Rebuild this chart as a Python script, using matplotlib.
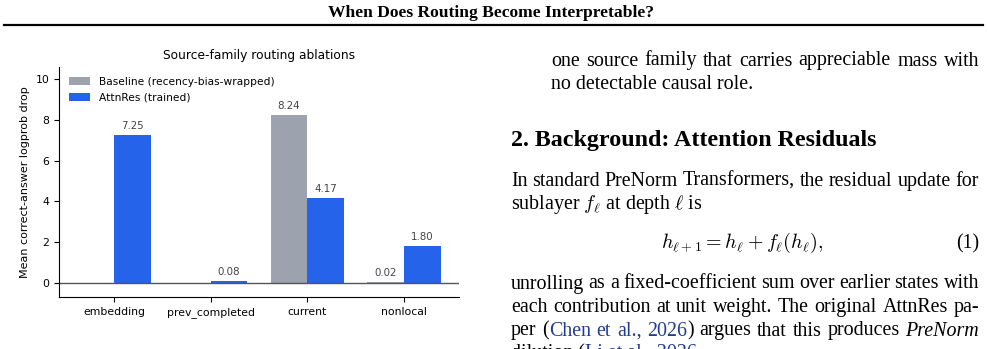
import matplotlib
matplotlib.use("Agg")
import matplotlib.pyplot as plt
import numpy as np

W, H = 988, 349

# данные графика
families = ["embedding", "prev_completed", "current", "nonlocal"]
baseline = [0.0, 0.0, 8.24, 0.02]
attnres = [7.25, 0.08, 4.17, 1.80]
series_names = ["Baseline (recency-bias-wrapped)", "AttnRes (trained)"]

plt.rcParams["mathtext.fontset"] = "cm"

fig = plt.figure(figsize=(W / 100, H / 100), dpi=100)
renderer = fig.canvas.get_renderer()


def fx(x):
    return x / W


def fy(y):
    return 1 - y / H


# --- шапка страницы
fig.text(fx(491), fy(13), "When Does Routing Become Interpretable?", family="Liberation Serif",
         weight="bold", fontsize=12.6, ha="center", va="center")
fig.add_artist(plt.Line2D([fx(4), fx(983)], [fy(25), fy(25)], color="black", lw=1.6))

# --- график
ax = fig.add_axes([fx(59), fy(297), fx(459) - fx(59), fy(67) - fy(297)])
x = np.arange(len(families))
w = 0.38
b1 = ax.bar(x - w / 2, baseline, w, color="#9ca3af", label=series_names[0])
b2 = ax.bar(x + w / 2, attnres, w, color="#2563eb", label=series_names[1])
for bars, vals in [(b1, baseline), (b2, attnres)]:
    for r, v in zip(bars, vals):
        if v > 0:
            ax.annotate(f"{v:.2f}", (r.get_x() + r.get_width() / 2, v), xytext=(0, 3),
                        textcoords="offset points", ha="center", va="bottom",
                        fontsize=7.4, color="#444444")
ax.axhline(0, color="#555555", lw=1)
ax.set_ylim(-0.7, 10.6)
ax.set_xticks(x)
ax.set_xticklabels(families, fontsize=7.8)
ax.tick_params(axis="y", labelsize=7.8)
ax.set_ylabel("Mean correct-answer logprob drop", fontsize=8)
ax.set_title("Source-family routing ablations", fontsize=8.8, pad=6)
ax.spines["top"].set_visible(False)
ax.spines["right"].set_visible(False)
ax.legend(loc="upper left", frameon=False, fontsize=7.7, bbox_to_anchor=(0.0, 1.0),
          labelspacing=0.55)

# --- правая колонка текста
serif = "Liberation Serif"
fs = 14.4
cite = "#223b94"
RIGHT = 979


def put(xp, yp, s, color="black", style="normal", **kw):
    return fig.text(fx(xp), fy(yp), s, family=serif, fontsize=fs, color=color, style=style,
                    va="baseline", **kw)


def justify(xp, yp, parts, right=RIGHT):
    # слова из кусков разного цвета/начертания, растянутые по ширине колонки
    words = [[]]
    for s, c, st in parts:
        chunks = s.split(" ")
        for i, ch in enumerate(chunks):
            if i > 0:
                words.append([])
            if ch:
                words[-1].append((ch, c, st))
    words = [wd for wd in words if wd]
    arts = []
    total = 0
    for wd in words:
        row = []
        for s, c, st in wd:
            t = put(0, yp, s, c, st)
            ww = t.get_window_extent(renderer).width
            row.append((t, ww))
            total += ww
        arts.append(row)
    gap = (right - xp - total) / (len(words) - 1)
    cur = xp
    for row in arts:
        for t, ww in row:
            t.set_x(fx(cur))
            cur += ww
        cur += gap


justify(551, 65.5, [("one source family that carries appreciable mass with", "black", "normal")])
put(551, 89, "no detectable causal role.")
fig.text(fx(511), fy(146), "2. Background: Attention Residuals", family=serif, weight="bold",
         fontsize=17.3, va="baseline")
justify(511, 185.5, [("In standard PreNorm Transformers, the residual update for", "black", "normal")])
put(511, 208.5, r"sublayer $f_\ell$ at depth $\ell$ is")
fig.text(fx(742), fy(248), r"$h_{\ell+1} = h_\ell + f_\ell(h_\ell),$", fontsize=14.4, ha="center",
         va="baseline")
put(RIGHT, 248, "(1)", ha="right")
justify(511, 288.5, [("unrolling as a fixed-coefficient sum over earlier states with", "black", "normal")])
justify(511, 312, [("each contribution at unit weight. The original AttnRes pa-", "black", "normal")])
justify(511, 335.5, [("per (", "black", "normal"), ("Chen et al., 2026", cite, "normal"),
                     (") argues that this produces ", "black", "normal"),
                     ("PreNorm", "black", "italic")])
# последняя строка обрезана краем страницы, как в оригинале
d = put(511, 358, "dilution (")
put(511 + d.get_window_extent(renderer).width, 358, "Li et al., 2026", cite)

fig.savefig("out.png")
